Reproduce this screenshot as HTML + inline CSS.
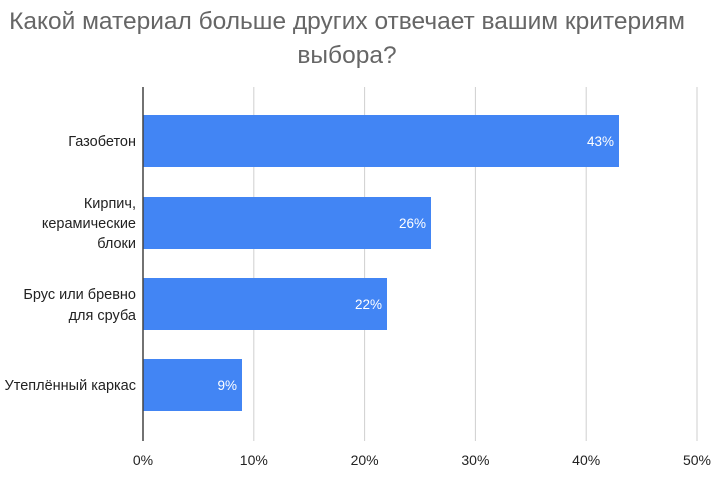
<!DOCTYPE html>
<html><head><meta charset="utf-8"><style>
html,body{margin:0;padding:0;background:#fff;}
svg{display:block;font-family:"Liberation Sans","Noto Sans CJK SC",sans-serif;}
</style></head><body>
<svg width="720" height="480" viewBox="0 0 720 480" xmlns="http://www.w3.org/2000/svg">
<rect width="720" height="480" fill="#fff"/>
<text x="347" y="29" text-anchor="middle" font-size="24.5" fill="#666">Какой материал больше других отвечает вашим критериям</text>
<text x="347" y="63" text-anchor="middle" font-size="24.5" fill="#666">выбора?</text>
<g stroke="#cfcfcf" stroke-width="1">
<line x1="253.8" y1="87" x2="253.8" y2="441"/>
<line x1="364.6" y1="87" x2="364.6" y2="441"/>
<line x1="475.4" y1="87" x2="475.4" y2="441"/>
<line x1="586.2" y1="87" x2="586.2" y2="441"/>
<line x1="697" y1="87" x2="697" y2="441"/>
</g>
<g fill="#4285f4">
<rect x="143" y="115" width="476" height="52"/>
<rect x="143" y="197" width="288" height="52"/>
<rect x="143" y="278" width="244" height="52"/>
<rect x="143" y="359" width="99" height="52"/>
</g>
<line x1="143" y1="87" x2="143" y2="441" stroke="#444" stroke-width="1.5"/>
<g font-size="13.5" fill="#fff" text-anchor="end">
<text x="614" y="146">43%</text>
<text x="426" y="228">26%</text>
<text x="382" y="309">22%</text>
<text x="237" y="390">9%</text>
</g>
<g font-size="14.5" fill="#222" text-anchor="end">
<text x="136" y="146">Газобетон</text>
<text x="136" y="208">Кирпич,</text>
<text x="136" y="228">керамические</text>
<text x="136" y="248">блоки</text>
<text x="136" y="299">Брус или бревно</text>
<text x="136" y="320">для сруба</text>
<text x="136" y="390">Утеплённый каркас</text>
</g>
<g font-size="14" fill="#222" text-anchor="middle">
<text x="143" y="465">0%</text>
<text x="253.8" y="465">10%</text>
<text x="364.6" y="465">20%</text>
<text x="475.4" y="465">30%</text>
<text x="586.2" y="465">40%</text>
<text x="697" y="465">50%</text>
</g>
</svg>
</body></html>
